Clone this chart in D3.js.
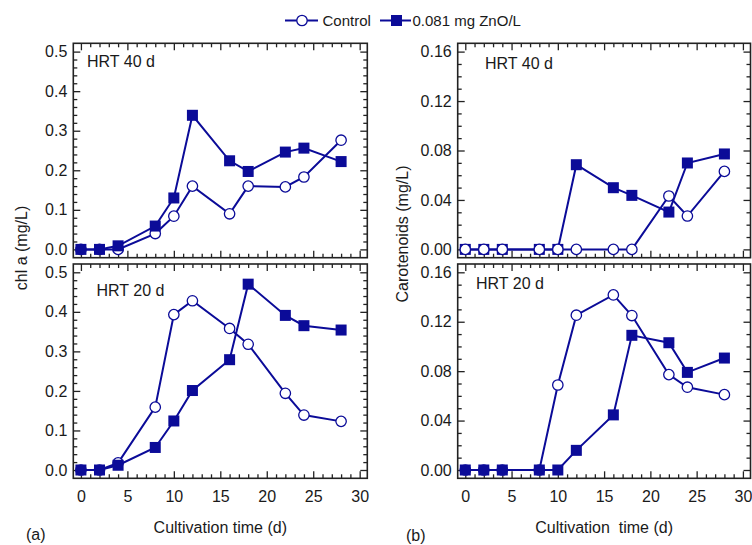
<!DOCTYPE html>
<html><head><meta charset="utf-8">
<script src="https://cdn.jsdelivr.net/npm/d3@7"></script>
<style>
html,body{margin:0;padding:0;background:#fff;}
svg{display:block;}
text{font-family:"Liberation Sans",Arial,Helvetica,sans-serif;fill:#1a1a1a;}
</style></head>
<body>
<script>
// ---- data ----
const days = [0, 2, 4, 8, 10, 12, 16, 18, 22, 24, 28];
const chlCtrl40 = [0, 0, 0, 0.040, 0.084, 0.160, 0.090, 0.160, 0.158, 0.183, 0.276];
const chlZnO40  = [0, 0, 0.009, 0.059, 0.130, 0.339, 0.224, 0.197, 0.246, 0.256, 0.222];
const chlCtrl20 = [0, 0, 0.018, 0.159, 0.393, 0.428, 0.358, 0.318, 0.194, 0.139, 0.123];
const chlZnO20  = [0, 0, 0.012, 0.057, 0.124, 0.201, 0.279, 0.470, 0.391, 0.365, 0.354];
const carCtrl40 = [0, 0, 0, 0, 0, 0, 0, 0, 0.0432, 0.0270, 0.0631];
const carZnO40  = [0, 0, 0, 0, 0, 0.0685, 0.0499, 0.0437, 0.0302, 0.0699, 0.0772];
const carCtrl20 = [0, 0, 0, 0, 0.0688, 0.1253, 0.1417, 0.1250, 0.0772, 0.0670, 0.0610];
const carZnO20  = [0, 0, 0, 0, 0, 0.0159, 0.0446, 0.1090, 0.1030, 0.0790, 0.0906];
const seriesNames = ["Control", "0.081 mg ZnO/L"];
const xTicks = [0, 5, 10, 15, 20, 25, 30];
const chlTicks = [0, 0.1, 0.2, 0.3, 0.4, 0.5];
const carTicks = [0, 0.04, 0.08, 0.12, 0.16];
const hrtLabels = ["HRT 40 d", "HRT 20 d"];
const xTitles = ["Cultivation time (d)", "Cultivation  time (d)"];
const yTitles = ["chl a (mg/L)", "Carotenoids (mg/L)"];
const panelTags = ["(a)", "(b)"];

// ---- layout ----
const W = 752, H = 545;
const color = "#0b0b98";
const svg = d3.select("body").append("svg").attr("width", W).attr("height", H);

const cols = [
  {x0: 73.3, x1: 367.3, fmt: d3.format(".1f"), ticks: chlTicks, minor: 0.02, ymax: 0.5, title: yTitles[0], titleX: 27, titleY: 248, tag: panelTags[0], tagX: 26, tagY: 540, xTitle: xTitles[0]},
  {x0: 457.7, x1: 750.5, fmt: d3.format(".2f"), ticks: carTicks, minor: 0.01, ymax: 0.16, title: yTitles[1], titleX: 408, titleY: 234, tag: panelTags[1], tagX: 406, tagY: 540.5, xTitle: xTitles[1]}
];
const rows = [{y0: 43.3, y1: 257.7}, {y0: 264, y1: 478.3}];

const panels = [
  {c: 0, r: 0, ctrl: chlCtrl40, zno: chlZnO40, label: hrtLabels[0], lx: 87, ly: 66.5, circlesOnTop: false},
  {c: 0, r: 1, ctrl: chlCtrl20, zno: chlZnO20, label: hrtLabels[1], lx: 96.5, ly: 296, circlesOnTop: false},
  {c: 1, r: 0, ctrl: carCtrl40, zno: carZnO40, label: hrtLabels[0], lx: 485, ly: 69, circlesOnTop: true},
  {c: 1, r: 1, ctrl: carCtrl20, zno: carZnO20, label: hrtLabels[1], lx: 476, ly: 288.5, circlesOnTop: false}
];

function range(a, b, s) { const out = []; for (let v = a; v <= b + 1e-9; v += s) out.push(+v.toFixed(4)); return out; }

panels.forEach(p => {
  const col = cols[p.c], row = rows[p.r];
  const x = d3.scaleLinear().domain([-0.82, 30.82]).range([col.x0, col.x1]);
  const pad = col.ymax * 0.042;
  const y = d3.scaleLinear().domain([-pad, col.ymax + pad]).range([row.y1, row.y0]);
  const g = svg.append("g");

  const xMinor = range(0, 30, 1).filter(v => v % 5 !== 0);
  const yMinor = range(0, col.ymax, col.minor).filter(v => !col.ticks.some(t => Math.abs(t - v) < 1e-6));

  const styleAxis = sel => {
    sel.select(".domain").remove();
    sel.selectAll("line").attr("stroke", "#222").attr("stroke-width", 1.3);
    sel.selectAll("text").style("font-size", "16px").attr("fill", "#1a1a1a");
  };
  // bottom
  g.append("g").attr("transform", `translate(0,${row.y1})`)
    .call(d3.axisBottom(x).tickValues(xTicks).tickSize(-7).tickPadding(p.r === 1 ? 12 : 0)
      .tickFormat(p.r === 1 ? d3.format("d") : ""))
    .call(styleAxis);
  g.append("g").attr("transform", `translate(0,${row.y1})`)
    .call(d3.axisBottom(x).tickValues(xMinor).tickSize(-4).tickFormat("")).call(styleAxis);
  // top
  g.append("g").attr("transform", `translate(0,${row.y0})`)
    .call(d3.axisTop(x).tickValues(xTicks).tickSize(-7).tickFormat("")).call(styleAxis);
  g.append("g").attr("transform", `translate(0,${row.y0})`)
    .call(d3.axisTop(x).tickValues(xMinor).tickSize(-4).tickFormat("")).call(styleAxis);
  // left
  g.append("g").attr("transform", `translate(${col.x0},0)`)
    .call(d3.axisLeft(y).tickValues(col.ticks).tickSize(-7).tickPadding(6).tickFormat(col.fmt)).call(styleAxis);
  g.append("g").attr("transform", `translate(${col.x0},0)`)
    .call(d3.axisLeft(y).tickValues(yMinor).tickSize(-4).tickFormat("")).call(styleAxis);
  // right
  g.append("g").attr("transform", `translate(${col.x1},0)`)
    .call(d3.axisRight(y).tickValues(col.ticks).tickSize(-7).tickFormat("")).call(styleAxis);
  g.append("g").attr("transform", `translate(${col.x1},0)`)
    .call(d3.axisRight(y).tickValues(yMinor).tickSize(-4).tickFormat("")).call(styleAxis);

  // frame
  g.append("rect").attr("x", col.x0).attr("y", row.y0)
    .attr("width", col.x1 - col.x0).attr("height", row.y1 - row.y0)
    .attr("fill", "none").attr("stroke", "#222").attr("stroke-width", 1.6);

  g.append("text").attr("x", p.lx).attr("y", p.ly).style("font-size", "16px").text(p.label);

  const line = d3.line().x((d, i) => x(days[i])).y(d => y(d));
  const drawCtrl = () => {
    g.append("path").datum(p.ctrl).attr("d", line).attr("fill", "none").attr("stroke", color).attr("stroke-width", 2);
    g.selectAll(null).data(p.ctrl).enter().append("circle")
      .attr("cx", (d, i) => x(days[i])).attr("cy", d => y(d)).attr("r", 5.2)
      .attr("fill", "#fff").attr("stroke", color).attr("stroke-width", 1.3);
  };
  const drawZnO = () => {
    g.append("path").datum(p.zno).attr("d", line).attr("fill", "none").attr("stroke", color).attr("stroke-width", 2);
    g.selectAll(null).data(p.zno).enter().append("rect")
      .attr("x", (d, i) => x(days[i]) - 5.5).attr("y", d => y(d) - 5.5)
      .attr("width", 11).attr("height", 11).attr("fill", color);
  };
  if (p.circlesOnTop) { drawZnO(); drawCtrl(); } else { drawCtrl(); drawZnO(); }
});

// axis titles and tags
cols.forEach(col => {
  svg.append("text").attr("x", (col.x0 + col.x1) / 2).attr("y", 533)
    .attr("text-anchor", "middle").style("font-size", "16px").style("white-space", "pre")
    .attr("xml:space", "preserve").text(col.xTitle);
  svg.append("text").attr("transform", `translate(${col.titleX},${col.titleY}) rotate(-90)`)
    .attr("text-anchor", "middle").style("font-size", "16px").text(col.title);
  svg.append("text").attr("x", col.tagX).attr("y", col.tagY).style("font-size", "16px").text(col.tag);
});

// legend
const leg = svg.append("g");
leg.append("line").attr("x1", 285).attr("x2", 318).attr("y1", 20.5).attr("y2", 20.5).attr("stroke", color).attr("stroke-width", 2);
leg.append("circle").attr("cx", 302).attr("cy", 20.5).attr("r", 5.2).attr("fill", "#fff").attr("stroke", color).attr("stroke-width", 1.3);
leg.append("text").attr("x", 322.5).attr("y", 26).style("font-size", "15px").text(seriesNames[0]);
leg.append("line").attr("x1", 380).attr("x2", 411).attr("y1", 20.5).attr("y2", 20.5).attr("stroke", color).attr("stroke-width", 2);
leg.append("rect").attr("x", 391).attr("y", 15).attr("width", 11).attr("height", 11).attr("fill", color);
leg.append("text").attr("x", 412.5).attr("y", 26).style("font-size", "15px").text(seriesNames[1]);
</script>
</body></html>
